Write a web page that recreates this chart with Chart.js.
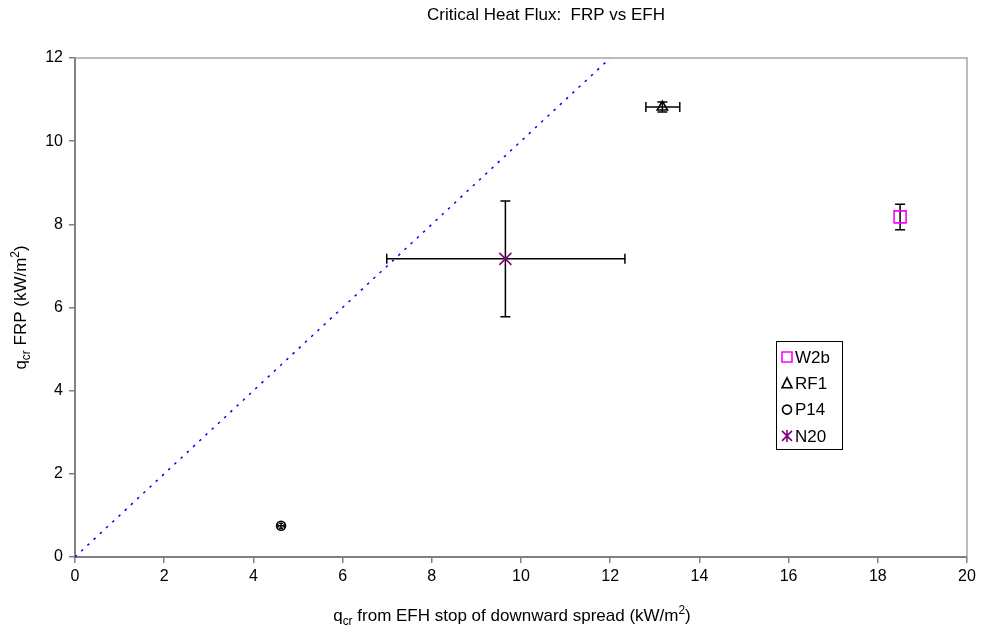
<!DOCTYPE html>
<html><head><meta charset="utf-8">
<script src="https://cdn.jsdelivr.net/npm/chart.js@4"></script>
<style>html,body{margin:0;padding:0;background:#fff}#wrap{width:981px;height:631px;position:relative}</style>
</head><body><div id="wrap"><canvas id="c" width="981" height="631"></canvas></div>
<script>
const seriesNames = ['W2b', 'RF1', 'P14', 'N20'];
const xValues = [18.5, 13.17, 4.62, 9.65];
const yValues = [8.18, 10.82, 0.75, 7.17];
const xErrLow = [18.5, 12.80, 4.55, 6.99];
const xErrHigh = [18.5, 13.56, 4.69, 12.33];
const yErrLow = [7.87, 10.70, 0.69, 5.78];
const yErrHigh = [8.48, 10.94, 0.81, 8.56];
const seriesColors = ['#FF00FF', '#000000', '#000000', '#800080'];
const seriesMarkers = ['rect', 'triangle', 'circle', 'crossRot'];
const markerRadius = [8.5, 6, 4.5, 8.5];
const capSize = [5, 5, 2, 5];
const refLineX = [0, 12];
const refLineY = [0, 12];
const xTickValues = [0, 2, 4, 6, 8, 10, 12, 14, 16, 18, 20];
const yTickValues = [0, 2, 4, 6, 8, 10, 12];
const chartTitle = 'Critical Heat Flux:  FRP vs EFH';
const FONT = '"Liberation Sans", Arial, sans-serif';

const datasets = seriesNames.map((n, i) => ({
  label: n,
  type: 'scatter',
  data: [{x: xValues[i], y: yValues[i]}],
  pointStyle: seriesMarkers[i],
  pointRadius: markerRadius[i],
  pointBorderColor: seriesColors[i],
  pointBackgroundColor: 'rgba(255,255,255,0)',
  pointBorderWidth: 1.6,
  order: 1
}));
datasets.push({
  label: 'ref',
  type: 'line',
  data: refLineX.map((x, i) => ({x: x, y: refLineY[i]})),
  borderColor: '#0000FF',
  borderWidth: 1.5,
  borderDash: [2.5, 6],
  pointRadius: 0,
  fill: false,
  order: 2
});

function drawText(ctx, parts, x, y, size, align) {
  ctx.save();
  let total = 0;
  const widths = parts.map(p => {
    const s = p.mode === 'n' ? size : size * 0.7;
    ctx.font = s + 'px ' + FONT;
    const w = ctx.measureText(p.t).width;
    total += w;
    return w;
  });
  let cx = align === 'center' ? x - total / 2 : x;
  ctx.textBaseline = 'alphabetic';
  ctx.textAlign = 'left';
  ctx.fillStyle = '#000';
  parts.forEach((p, i) => {
    const s = p.mode === 'n' ? size : size * 0.7;
    ctx.font = s + 'px ' + FONT;
    let dy = 0;
    if (p.mode === 'sub') dy = size * 0.22;
    if (p.mode === 'sup') dy = -size * 0.42;
    ctx.fillText(p.t, cx, y + dy);
    cx += widths[i];
  });
  ctx.restore();
}

function legendMarker(ctx, style, color, x, y) {
  ctx.save();
  ctx.strokeStyle = color;
  ctx.lineWidth = 1.6;
  ctx.beginPath();
  if (style === 'rect') {
    ctx.rect(x - 5, y - 5, 10, 10);
  } else if (style === 'triangle') {
    ctx.moveTo(x, y - 5.5); ctx.lineTo(x + 5, y + 4.5); ctx.lineTo(x - 5, y + 4.5); ctx.closePath();
  } else if (style === 'circle') {
    ctx.arc(x, y, 4.5, 0, Math.PI * 2);
  } else {
    ctx.moveTo(x - 5, y - 5); ctx.lineTo(x + 5, y + 5);
    ctx.moveTo(x + 5, y - 5); ctx.lineTo(x - 5, y + 5);
    ctx.moveTo(x, y - 6); ctx.lineTo(x, y + 6);
  }
  ctx.stroke();
  ctx.restore();
}

const extras = {
  id: 'extras',
  beforeDatasetsDraw(chart) {
    const ctx = chart.ctx, xs = chart.scales.x, ys = chart.scales.y;
    ctx.save();
    ctx.strokeStyle = '#000';
    ctx.lineWidth = 1.5;
    seriesNames.forEach((n, i) => {
      const cap = capSize[i];
      const px = xs.getPixelForValue(xValues[i]);
      const py = ys.getPixelForValue(yValues[i]);
      const x1 = xs.getPixelForValue(xErrLow[i]), x2 = xs.getPixelForValue(xErrHigh[i]);
      const y1 = ys.getPixelForValue(yErrLow[i]), y2 = ys.getPixelForValue(yErrHigh[i]);
      ctx.beginPath();
      if (x2 - x1 > 0.5) {
        ctx.moveTo(x1, py); ctx.lineTo(x2, py);
        ctx.moveTo(x1, py - cap); ctx.lineTo(x1, py + cap);
        ctx.moveTo(x2, py - cap); ctx.lineTo(x2, py + cap);
      }
      if (y1 - y2 > 0.5) {
        ctx.moveTo(px, y1); ctx.lineTo(px, y2);
        ctx.moveTo(px - cap, y1); ctx.lineTo(px + cap, y1);
        ctx.moveTo(px - cap, y2); ctx.lineTo(px + cap, y2);
      }
      ctx.stroke();
    });
    ctx.restore();
  },
  afterDraw(chart) {
    const ctx = chart.ctx, a = chart.chartArea;
    ctx.save();
    ctx.strokeStyle = '#a6a6a6';
    ctx.lineWidth = 1.5;
    ctx.beginPath();
    ctx.moveTo(a.left, a.top); ctx.lineTo(a.right, a.top); ctx.lineTo(a.right, a.bottom);
    ctx.stroke();
    ctx.restore();
    drawText(ctx, [{t: chartTitle, mode: 'n'}], 546, 20, 17, 'center');
    drawText(ctx, [{t: 'q', mode: 'n'}, {t: 'cr', mode: 'sub'}, {t: ' from EFH stop of downward spread (kW/m', mode: 'n'}, {t: '2', mode: 'sup'}, {t: ')', mode: 'n'}], 512, 621, 17, 'center');
    ctx.save();
    ctx.translate(26, (a.top + a.bottom) / 2);
    ctx.rotate(-Math.PI / 2);
    drawText(ctx, [{t: 'q', mode: 'n'}, {t: 'cr', mode: 'sub'}, {t: ' FRP (kW/m', mode: 'n'}, {t: '2', mode: 'sup'}, {t: ')', mode: 'n'}], 0, 0, 17, 'center');
    ctx.restore();
    ctx.save();
    ctx.fillStyle = '#fff';
    ctx.fillRect(776.5, 341.5, 66, 108);
    ctx.strokeStyle = '#000';
    ctx.lineWidth = 1;
    ctx.strokeRect(776.5, 341.5, 66, 108);
    ctx.font = '17px ' + FONT;
    ctx.textBaseline = 'middle';
    ctx.fillStyle = '#000';
    seriesNames.forEach((n, i) => {
      const ly = 357 + 26.3 * i;
      legendMarker(ctx, seriesMarkers[i], seriesColors[i], 787, ly);
      ctx.fillText(n, 795, ly + 1);
    });
    ctx.restore();
  }
};

new Chart(document.getElementById('c'), {
  type: 'scatter',
  data: {datasets: datasets},
  options: {
    responsive: false,
    animation: false,
    devicePixelRatio: 1,
    layout: {padding: {top: 58, right: 14, left: 0, bottom: 0}},
    plugins: {legend: {display: false}, tooltip: {enabled: false}, title: {display: false}},
    scales: {
      x: {
        type: 'linear', min: 0, max: 20,
        afterBuildTicks(s) { s.ticks = xTickValues.map(v => ({value: v})); },
        afterFit(s) { s.height = 74; },
        ticks: {color: '#000', font: {size: 16, family: FONT}, padding: 4},
        grid: {drawOnChartArea: false, tickLength: 6, color: '#808080', lineWidth: 1.5},
        border: {color: '#808080', width: 2}
      },
      y: {
        type: 'linear', min: 0, max: 12,
        afterBuildTicks(s) { s.ticks = yTickValues.map(v => ({value: v})); },
        afterFit(s) { s.width = 75; },
        ticks: {color: '#000', font: {size: 16, family: FONT}, padding: 6},
        grid: {drawOnChartArea: false, tickLength: 6, color: '#808080', lineWidth: 1.5},
        border: {color: '#808080', width: 2}
      }
    }
  },
  plugins: [extras]
});
</script>
</body></html>
